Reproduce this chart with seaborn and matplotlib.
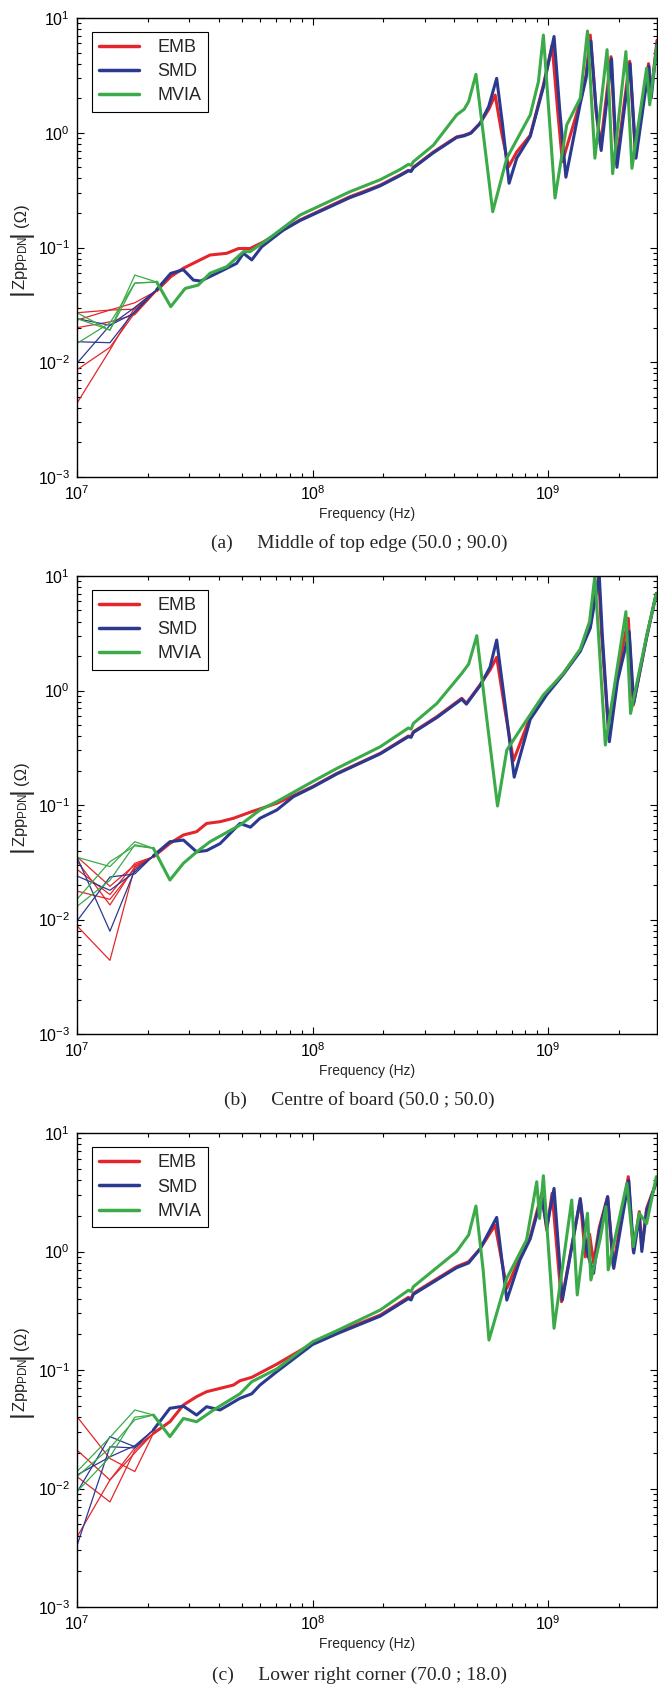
import matplotlib
matplotlib.use('Agg')
import matplotlib.pyplot as plt
import seaborn as sns
from matplotlib.lines import Line2D
from matplotlib.ticker import LogLocator, NullFormatter

# frequencies (Hz) of the noisy low-frequency samples, shared by all panels
LF_F = [1.0e7, 1.38e7, 1.76e7]

# ---- (a) middle of top edge ----
A_EMB_LF = [[0.0044, 0.0128, 0.030], [0.0086, 0.0135, 0.027], [0.020, 0.0225, 0.026],
            [0.0233, 0.0285, 0.029], [0.027, 0.0285, 0.033]]
A_SMD_LF = [[0.0098, 0.021, 0.030], [0.0151, 0.0148, 0.028], [0.024, 0.021, 0.027]]
A_MVIA_LF = [[0.0146, 0.022, 0.049], [0.024, 0.0191, 0.0575], [0.027, 0.019, 0.049]]

A_EMB_F = [2.18e7, 2.5e7, 2.83e7, 3.22e7, 3.67e7, 4.32e7, 4.85e7, 5.43e7, 6.19e7, 8.86e7,
           1.44e8, 1.64e8, 1.94e8, 2.36e8, 2.55e8, 2.62e8, 2.68e8, 3.26e8, 4.09e8, 4.4e8,
           4.7e8, 5.14e8, 5.6e8, 5.96e8, 6.35e8, 6.8e8, 7.36e8, 8.4e8, 9.55e8, 1.04e9,
           1.1e9, 1.15e9, 1.37e9, 1.45e9, 1.51e9, 1.6e9, 1.67e9, 1.85e9, 1.95e9, 2.22e9,
           2.35e9, 2.67e9, 2.73e9, 2.9e9]
A_EMB_Z = [0.042, 0.0557, 0.066, 0.0753, 0.086, 0.089, 0.098, 0.098, 0.112, 0.174,
           0.277, 0.306, 0.35, 0.43, 0.47, 0.465, 0.5, 0.68, 0.92, 0.95,
           1.0, 1.21, 1.6, 2.13, 1.0, 0.506, 0.68, 0.95, 2.6, 5.8,
           1.5, 0.56, 1.87, 3.2, 7.1, 1.5, 0.76, 4.6, 0.54, 4.2,
           0.64, 4.0, 2.1, 6.4]
A_SMD_F = [2.18e7, 2.5e7, 2.83e7, 3.12e7, 3.35e7, 3.92e7, 4.76e7, 5.09e7, 5.52e7, 6.09e7,
           7.52e7, 8.86e7, 1.44e8, 1.64e8, 1.94e8, 2.36e8, 2.55e8, 2.62e8, 2.68e8, 3.26e8,
           4.09e8, 4.4e8, 4.7e8, 5.14e8, 5.6e8, 6.05e8, 6.4e8, 6.83e8, 7.36e8, 8.4e8,
           9.55e8, 1.06e9, 1.12e9, 1.19e9, 1.37e9, 1.45e9, 1.52e9, 1.6e9, 1.68e9, 1.86e9,
           1.96e9, 2.23e9, 2.36e9, 2.68e9, 2.74e9, 2.9e9]
A_SMD_Z = [0.043, 0.0595, 0.064, 0.052, 0.051, 0.0596, 0.0727, 0.089, 0.078, 0.1016,
           0.142, 0.172, 0.272, 0.30, 0.345, 0.425, 0.465, 0.46, 0.495, 0.67,
           0.91, 0.94, 0.99, 1.2, 1.7, 2.98, 1.2, 0.363, 0.6, 0.93,
           2.5, 6.9, 1.6, 0.41, 1.8, 3.0, 6.3, 1.6, 0.7, 4.4,
           0.5, 4.0, 0.6, 3.8, 2.0, 6.0]
A_MVIA_F = [2.18e7, 2.5e7, 2.88e7, 3.27e7, 3.67e7, 4.32e7, 5.09e7, 5.43e7, 6.39e7, 8.86e7,
            1.44e8, 1.94e8, 2.36e8, 2.55e8, 2.62e8, 2.68e8, 3.26e8, 4.09e8, 4.4e8, 4.6e8,
            4.94e8, 5.4e8, 5.82e8, 6.68e8, 8.4e8, 9.1e8, 9.55e8, 1.07e9, 1.2e9, 1.37e9,
            1.47e9, 1.58e9, 1.78e9, 1.88e9, 2.14e9, 2.27e9, 2.62e9, 2.7e9, 2.9e9]
A_MVIA_Z = [0.050, 0.0305, 0.044, 0.047, 0.0596, 0.068, 0.092, 0.092, 0.116, 0.192,
            0.306, 0.39, 0.48, 0.53, 0.52, 0.56, 0.78, 1.43, 1.6, 1.87,
            3.23, 0.73, 0.205, 0.6, 1.43, 2.79, 7.1, 0.27, 1.17, 2.0,
            7.7, 0.6, 5.3, 0.44, 5.1, 0.49, 3.65, 1.75, 5.8]

# ---- (b) centre of board ----
B_EMB_LF = [[0.0354, 0.0195, 0.030], [0.0324, 0.0134, 0.029], [0.0274, 0.0165, 0.031],
            [0.0177, 0.0150, 0.028], [0.0088, 0.0044, 0.029]]
B_SMD_LF = [[0.035, 0.0079, 0.027], [0.024, 0.018, 0.026], [0.0097, 0.0235, 0.025]]
B_MVIA_LF = [[0.035, 0.029, 0.0478], [0.015, 0.032, 0.044], [0.013, 0.022, 0.045]]

B_EMB_F = [2.11e7, 2.48e7, 2.83e7, 3.22e7, 3.55e7, 4.05e7, 4.61e7, 5.52e7, 7.05e7, 1.0e8,
           1.27e8, 1.94e8, 2.55e8, 2.62e8, 2.68e8, 3.37e8, 4.3e8, 4.5e8, 5.14e8, 5.67e8,
           6.05e8, 6.56e8, 7.13e8, 8.4e8, 9.87e8, 1.16e9, 1.37e9, 1.51e9, 1.56e9, 1.64e9,
           1.69e9, 1.8e9, 1.96e9, 2.19e9, 2.3e9, 2.62e9, 2.88e9]
B_EMB_Z = [0.0353, 0.0462, 0.0547, 0.0585, 0.069, 0.0715, 0.0765, 0.0875, 0.1035, 0.1445,
           0.189, 0.283, 0.40, 0.395, 0.436, 0.59, 0.855, 0.773, 1.12, 1.51,
           1.95, 0.676, 0.244, 0.59, 0.945, 1.41, 2.26, 3.61, 5.8, 9.8,
           2.95, 0.483, 1.32, 4.27, 0.746, 2.95, 7.06]
B_SMD_F = [2.11e7, 2.48e7, 2.83e7, 3.22e7, 3.55e7, 4.05e7, 4.92e7, 5.45e7, 5.98e7, 7.05e7,
           8.28e7, 1.0e8, 1.27e8, 1.94e8, 2.55e8, 2.62e8, 2.68e8, 3.37e8, 4.3e8, 4.5e8,
           5.14e8, 5.67e8, 6.05e8, 6.6e8, 7.18e8, 8.4e8, 9.87e8, 1.16e9, 1.37e9, 1.51e9,
           1.57e9, 1.65e9, 1.7e9, 1.82e9, 1.97e9, 2.21e9, 2.31e9, 2.62e9, 2.88e9]
B_SMD_Z = [0.036, 0.0478, 0.0494, 0.039, 0.040, 0.046, 0.069, 0.064, 0.0765, 0.0904,
           0.118, 0.143, 0.187, 0.28, 0.395, 0.39, 0.43, 0.58, 0.84, 0.76,
           1.1, 1.6, 2.76, 0.70, 0.175, 0.56, 0.92, 1.38, 2.2, 3.5,
           5.6, 9.9, 3.0, 0.357, 1.2, 3.26, 0.78, 2.9, 7.0]
B_MVIA_F = [2.11e7, 2.48e7, 2.83e7, 3.22e7, 3.67e7, 4.92e7, 5.98e7, 7.05e7, 1.0e8, 1.27e8,
            1.94e8, 2.55e8, 2.62e8, 2.68e8, 3.37e8, 4.3e8, 4.6e8, 4.98e8, 5.5e8, 6.1e8,
            6.68e8, 7.6e8, 9.55e8, 1.16e9, 1.37e9, 1.5e9, 1.58e9, 1.75e9, 2.14e9, 2.24e9,
            2.62e9, 2.88e9]
B_MVIA_Z = [0.0419, 0.0221, 0.031, 0.0389, 0.0478, 0.0668, 0.0904, 0.107, 0.16, 0.209,
            0.323, 0.47, 0.46, 0.516, 0.77, 1.41, 1.7, 3.01, 0.552, 0.098,
            0.302, 0.452, 0.914, 1.41, 2.3, 4.0, 10.0, 0.334, 4.88, 0.63,
            3.0, 7.0]

# ---- (c) lower right corner ----
C_EMB_LF = [[0.0404, 0.0179, 0.0139], [0.0211, 0.0118, 0.020], [0.0126, 0.0077, 0.021],
            [0.0039, 0.0118, 0.022]]
C_SMD_LF = [[0.0033, 0.0225, 0.022], [0.0093, 0.0274, 0.0225], [0.013, 0.0185, 0.023]]
C_MVIA_LF = [[0.0139, 0.027, 0.046], [0.0126, 0.022, 0.038], [0.0094, 0.0185, 0.040]]

C_EMB_F = [2.11e7, 2.48e7, 2.83e7, 3.22e7, 3.55e7, 4.05e7, 4.61e7, 4.92e7, 5.52e7, 7.05e7,
           1.0e8, 1.29e8, 1.94e8, 2.55e8, 2.62e8, 2.68e8, 4.09e8, 4.6e8, 5.14e8, 5.96e8,
           6.68e8, 7.6e8, 8.4e8, 9.4e8, 9.87e8, 1.04e9, 1.14e9, 1.37e9, 1.44e9, 1.5e9,
           1.56e9, 1.65e9, 1.79e9, 1.89e9, 2.19e9, 2.3e9, 2.44e9, 2.5e9, 2.62e9, 2.9e9]
C_EMB_Z = [0.0292, 0.0366, 0.0507, 0.0596, 0.0656, 0.070, 0.0746, 0.0812, 0.0867, 0.112,
           0.168, 0.21, 0.291, 0.41, 0.40, 0.444, 0.745, 0.82, 1.05, 1.67,
           0.489, 0.9, 1.33, 3.1, 1.51, 3.1, 0.377, 2.72, 0.9, 1.4,
           0.8, 1.6, 2.9, 0.745, 4.28, 1.0, 2.17, 1.06, 2.31, 4.0]
C_SMD_F = [2.11e7, 2.48e7, 2.83e7, 3.22e7, 3.55e7, 4.05e7, 4.92e7, 5.52e7, 5.98e7, 7.05e7,
           1.0e8, 1.29e8, 1.94e8, 2.55e8, 2.62e8, 2.68e8, 4.09e8, 4.6e8, 5.14e8, 6.05e8,
           6.68e8, 7.6e8, 8.4e8, 9.4e8, 9.87e8, 1.06e9, 1.15e9, 1.37e9, 1.46e9, 1.56e9,
           1.65e9, 1.79e9, 1.9e9, 2.2e9, 2.31e9, 2.44e9, 2.5e9, 2.62e9, 2.9e9]
C_SMD_Z = [0.0312, 0.0475, 0.0495, 0.0417, 0.049, 0.046, 0.0577, 0.063, 0.0746, 0.0968,
           0.164, 0.205, 0.285, 0.40, 0.39, 0.435, 0.73, 0.80, 1.05, 1.94,
           0.389, 0.85, 1.28, 2.9, 1.6, 3.41, 0.39, 2.8, 1.0, 0.655,
           1.5, 2.9, 0.72, 4.0, 0.97, 2.0, 1.0, 2.2, 4.0]
C_MVIA_F = [2.11e7, 2.48e7, 2.83e7, 3.22e7, 3.8e7, 4.92e7, 5.52e7, 7.05e7, 1.0e8, 1.29e8,
            1.94e8, 2.55e8, 2.62e8, 2.68e8, 4.09e8, 4.6e8, 4.94e8, 5.3e8, 5.61e8, 6.68e8,
            8.1e8, 8.95e8, 9.2e8, 9.55e8, 1.06e9, 1.26e9, 1.33e9, 1.47e9, 1.52e9, 1.66e9,
            1.76e9, 1.8e9, 2.16e9, 2.3e9, 2.44e9, 2.62e9, 2.88e9]
C_MVIA_Z = [0.0417, 0.0274, 0.039, 0.0366, 0.046, 0.063, 0.0796, 0.102, 0.173, 0.218,
            0.321, 0.47, 0.46, 0.505, 1.0, 1.38, 2.42, 0.70, 0.179, 0.594,
            1.25, 3.88, 1.9, 4.36, 0.225, 2.72, 0.43, 2.1, 0.575, 1.25,
            2.39, 0.70, 3.76, 1.1, 2.1, 1.72, 4.28]

LABELS = ['EMB', 'SMD', 'MVIA']
COLORS = ['#e4262c', '#2b3990', '#3aab48']
CAPTIONS = ['(a)     Middle of top edge (50.0 ; 90.0)',
            '(b)     Centre of board (50.0 ; 50.0)',
            '(c)     Lower right corner (70.0 ; 18.0)']

sns.set_style('ticks')
plt.rcParams['font.family'] = ['Liberation Sans', 'DejaVu Sans']
plt.rcParams['mathtext.fontset'] = 'custom'
plt.rcParams['mathtext.rm'] = 'Liberation Sans'
plt.rcParams['mathtext.it'] = 'Liberation Sans:italic'
plt.rcParams['axes.unicode_minus'] = False

panels = [
    [(A_EMB_F, A_EMB_Z, A_EMB_LF), (A_SMD_F, A_SMD_Z, A_SMD_LF), (A_MVIA_F, A_MVIA_Z, A_MVIA_LF)],
    [(B_EMB_F, B_EMB_Z, B_EMB_LF), (B_SMD_F, B_SMD_Z, B_SMD_LF), (B_MVIA_F, B_MVIA_Z, B_MVIA_LF)],
    [(C_EMB_F, C_EMB_Z, C_EMB_LF), (C_SMD_F, C_SMD_Z, C_SMD_LF), (C_MVIA_F, C_MVIA_Z, C_MVIA_LF)],
]

W, H = 658, 1689
# axes boxes in pixels: (top, bottom)
boxes = [(18, 477), (576, 1034), (1133, 1607)]
caption_y = [543, 1100, 1675]
left, right = 77, 657

fig = plt.figure(figsize=(W / 100, H / 100), dpi=100)

for (top, bot), series, cap, cy in zip(boxes, panels, CAPTIONS, caption_y):
    ax = fig.add_axes([left / W, 1 - bot / H, (right - left) / W, (bot - top) / H])
    ax.set_xscale('log')
    ax.set_yscale('log')

    for (mf, mz, lf), color in zip(series, COLORS):
        for tr in lf:
            f = LF_F[:len(tr)] + mf[:1]
            z = tr + mz[:1]
            sns.lineplot(x=f, y=z, ax=ax, color=color, lw=0.9,
                         estimator=None, sort=False)
        sns.lineplot(x=mf, y=mz, ax=ax, color=color, lw=2.2,
                     estimator=None, sort=False)

    ax.set_xlim(1e7, 2.9e9)
    ax.set_ylim(1e-3, 10)
    ax.yaxis.set_major_locator(LogLocator(base=10, numticks=10))
    ax.yaxis.set_minor_locator(LogLocator(base=10, subs=range(2, 10), numticks=20))
    ax.yaxis.set_minor_formatter(NullFormatter())
    ax.xaxis.set_minor_locator(LogLocator(base=10, subs=range(2, 10), numticks=20))
    ax.xaxis.set_minor_formatter(NullFormatter())
    ax.tick_params(which='both', direction='in', top=True, right=True,
                   color='black', width=0.8, labelsize=11.5, labelcolor='black')
    ax.tick_params(which='major', length=5, pad=5)
    ax.tick_params(which='minor', length=3)
    for s in ax.spines.values():
        s.set_color('black')
        s.set_linewidth(1.0)

    ax.set_xlabel('Frequency (Hz)', fontsize=10, labelpad=3)

    # y label |Zpp_PDN| (Ω), built from pieces so the bars can be tall
    mid = (top + bot) / 2
    lx = 21 / W
    fig.text(lx, 1 - (mid + 15) / H, r'$\mathrm{Zpp}_{\mathrm{PDN}}$', rotation=90,
             ha='center', va='center', fontsize=12)
    fig.text(lx, 1 - (mid - 32) / H, '(Ω)', rotation=90,
             ha='center', va='center', fontsize=12)
    for dy in (-14, 44):
        fig.text(lx, 1 - (mid + dy) / H, '|', rotation=90,
                 ha='center', va='center', fontsize=19)

    handles = [Line2D([], [], color=c, lw=2.5) for c in COLORS]
    leg = ax.legend(handles, LABELS, loc='upper left', bbox_to_anchor=(0.026, 0.97),
                    fontsize=13, frameon=True, fancybox=False, edgecolor='black',
                    framealpha=1, handlelength=2.2, handletextpad=1.0,
                    labelspacing=0.4, borderpad=0.4, borderaxespad=0)
    leg.get_frame().set_linewidth(0.8)

    fig.text(359 / W, 1 - cy / H, cap, ha='center', va='center',
             family='Liberation Serif', fontsize=14)

fig.savefig('out.png', dpi=100)
